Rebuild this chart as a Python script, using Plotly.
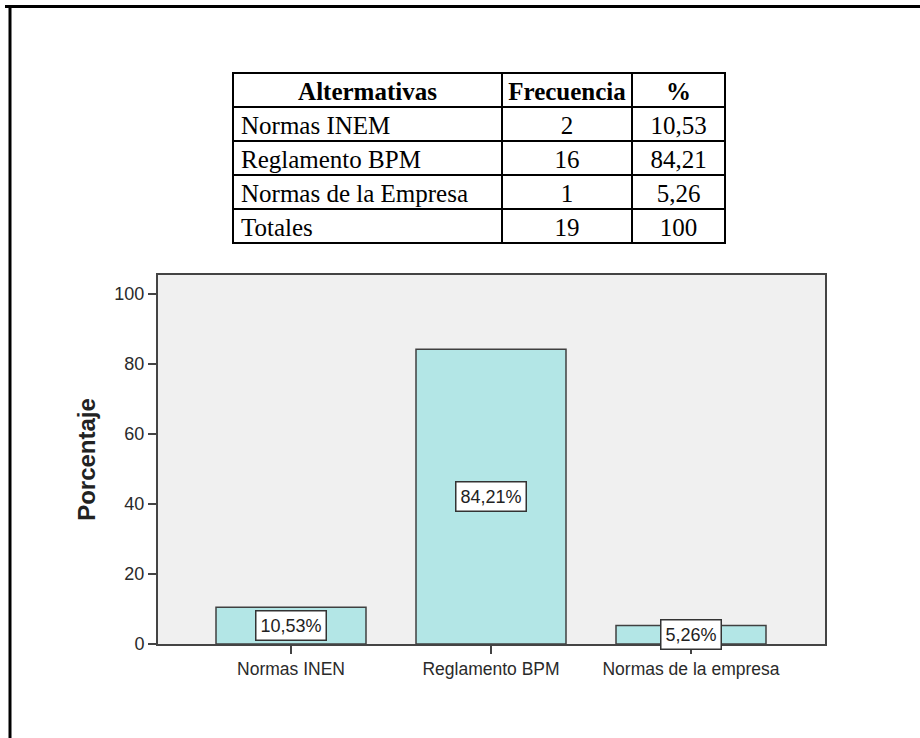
import plotly.graph_objects as go

# ---- data ----
table_header = ["Altermativas", "Frecuencia", "%"]
alternativas = ["Normas INEM", "Reglamento BPM", "Normas de la Empresa", "Totales"]
frecuencia = [2, 16, 1, 19]
porcentaje_tabla = ["10,53", "84,21", "5,26", "100"]

categorias = ["Normas INEN", "Reglamento BPM", "Normas de la empresa"]
porcentaje = [10.53, 84.21, 5.26]
y_ticks = [0, 20, 40, 60, 80, 100]

W, H = 920, 738

def px_x(p):
    return p / W

def px_y(p):
    return 1 - p / H

fig = go.Figure()

fig.add_trace(go.Table(
    domain=dict(x=[px_x(233), px_x(726)], y=[px_y(246), px_y(73)]),
    columnwidth=[269, 130, 93],
    header=dict(
        values=table_header,
        align="center",
        height=34,
        fill_color="white",
        line=dict(color="black", width=2),
        font=dict(family="Liberation Serif", size=25, color="black", weight="bold"),
    ),
    cells=dict(
        values=[alternativas, [str(f) for f in frecuencia], porcentaje_tabla],
        align=["left", "center", "center"],
        height=34,
        fill_color="white",
        line=dict(color="black", width=2),
        font=dict(family="Liberation Serif", size=25, color="black"),
    ),
))

fig.add_trace(go.Bar(
    x=categorias,
    y=porcentaje,
    width=0.75,
    marker=dict(color="#b3e6e6", line=dict(color="#404040", width=1.5)),
    hoverinfo="skip",
))

for c, v in zip(categorias, porcentaje):
    fig.add_annotation(
        x=c, y=v / 2, xref="x", yref="y",
        text=("%.2f%%" % v).replace(".", ","),
        showarrow=False,
        bgcolor="white", bordercolor="#333333", borderwidth=1.5, borderpad=4,
        font=dict(family="Liberation Sans", size=18, color="#222222"),
    )

fig.update_layout(
    width=W, height=H,
    margin=dict(l=0, r=0, t=0, b=0),
    paper_bgcolor="white",
    plot_bgcolor="#f0f0f0",
    showlegend=False,
    font=dict(family="Liberation Sans", color="#333333"),
    xaxis=dict(
        domain=[px_x(158), px_x(825)],
        type="category",
        range=[-0.665, 2.67],
        showline=True, linecolor="#444444", linewidth=2, mirror=True,
        ticks="outside", ticklen=8, tickcolor="#444444", tickwidth=2,
        tickfont=dict(family="Liberation Sans", size=17.5, color="#2a2a2a"),
        showgrid=False, automargin=False,
    ),
    yaxis=dict(
        domain=[px_y(644), px_y(275)],
        range=[0, 105.4],
        tickvals=y_ticks,
        showline=True, linecolor="#444444", linewidth=2, mirror=True,
        ticks="outside", ticklen=8, tickcolor="#444444", tickwidth=2,
        tickfont=dict(family="Liberation Sans", size=18, color="#2a2a2a"),
        showgrid=False, zeroline=False, automargin=False,
        title=dict(text="<b>Porcentaje</b>", standoff=12,
                   font=dict(family="Liberation Sans", size=24, color="#222222")),
    ),
    shapes=[
        dict(type="line", xref="paper", yref="paper",
             x0=px_x(5), x1=1, y0=px_y(6.5), y1=px_y(6.5),
             line=dict(color="black", width=3)),
        dict(type="line", xref="paper", yref="paper",
             x0=px_x(10), x1=px_x(10), y0=px_y(5), y1=0,
             line=dict(color="black", width=3)),
    ],
)

fig.write_html("out.html", config={"displayModeBar": False},
               post_script="document.body.style.margin='0';")
